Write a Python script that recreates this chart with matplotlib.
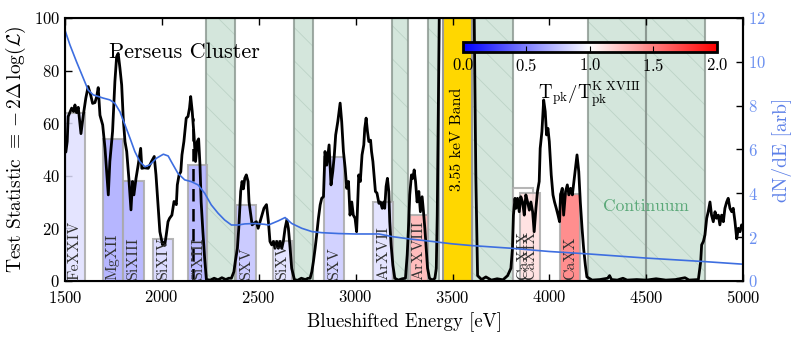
import numpy as np
import matplotlib
matplotlib.use('Agg')
import matplotlib.pyplot as plt
from matplotlib import colors, colorbar

plt.rcParams['font.family'] = ['cmr10', 'DejaVu Serif']
plt.rcParams['mathtext.fontset'] = 'cm'
plt.rcParams['axes.formatter.use_mathtext'] = True
plt.rcParams['hatch.linewidth'] = 0.6

# test statistic (left axis)
ts_E = [1500, 1505, 1512, 1517, 1535, 1545, 1552, 1560, 1569, 1583, 1595, 1608, 1620, 1633, 1643, 1655,
        1664, 1672, 1681, 1695, 1707, 1719, 1724, 1732, 1746, 1758, 1767, 1775, 1784, 1793, 1801, 1810,
        1819, 1830, 1841, 1849, 1856, 1867, 1878, 1891, 1897, 1910, 1930, 1947, 1961, 1970, 1982, 1990,
        2004, 2010, 2015, 2023, 2032, 2040, 2052, 2063, 2075, 2080, 2089, 2098, 2104, 2114, 2126, 2135,
        2143, 2149, 2157, 2166, 2174, 2183, 2190, 2197, 2203, 2212, 2221, 2230, 2250, 2270, 2290, 2310,
        2330, 2345, 2359, 2372, 2379, 2390, 2397, 2407, 2414, 2421, 2428, 2436, 2445, 2450, 2459, 2466,
        2476, 2488, 2497, 2513, 2527, 2540, 2550, 2558, 2567, 2576, 2584, 2593, 2601, 2610, 2619, 2627,
        2636, 2645, 2653, 2662, 2670, 2684, 2700, 2720, 2740, 2755, 2765, 2774, 2782, 2791, 2799, 2808,
        2817, 2825, 2834, 2842, 2851, 2863, 2873, 2882, 2890, 2897, 2908, 2920, 2928, 2937, 2946, 2954,
        2963, 2971, 2980, 2988, 2997, 3005, 3016, 3024, 3033, 3042, 3047, 3054, 3061, 3068, 3077, 3082,
        3089, 3095, 3102, 3110, 3120, 3128, 3137, 3145, 3150, 3157, 3164, 3171, 3176, 3183, 3192, 3202,
        3220, 3240, 3257, 3266, 3274, 3279, 3288, 3295, 3302, 3309, 3317, 3326, 3334, 3343, 3350, 3357,
        3364, 3371, 3381, 3395, 3409, 3416, 3421, 3426, 3432, 3440, 3600, 3611, 3620, 3629, 3650, 3672,
        3700, 3730, 3760, 3784, 3801, 3809, 3814, 3822, 3827, 3835, 3844, 3852, 3861, 3870, 3878, 3887,
        3896, 3904, 3913, 3921, 3930, 3938, 3947, 3952, 3961, 3970, 3978, 3985, 3992, 3999, 4009, 4018,
        4026, 4035, 4044, 4052, 4057, 4066, 4073, 4083, 4092, 4100, 4109, 4118, 4130, 4142, 4151, 4159,
        4168, 4176, 4185, 4193, 4220, 4260, 4300, 4310, 4320, 4350, 4379, 4400, 4450, 4500, 4550, 4600,
        4650, 4699, 4720, 4768, 4780, 4785, 4794, 4802, 4811, 4819, 4828, 4836, 4845, 4854, 4862, 4871,
        4879, 4888, 4897, 4905, 4914, 4922, 4931, 4940, 4948, 4957, 4966, 4974, 4983, 4991, 5000]
ts_val = [49, 49, 53, 62.5, 65.7, 64.4, 66.9, 64, 66, 56, 63, 69.5, 73.9, 70.7, 67.5, 67.8,
          70, 73.5, 63, 59.3, 50.4, 37.8, 32.7, 45.4, 56.8, 75.8, 85.3, 86.5, 80.9, 74.5, 61.9, 53,
          49.2, 39, 27, 37.8, 32.7, 39, 44, 50.4, 42.8, 43, 42.8, 45.4, 47.3, 40.3, 27.6, 18.7,
          13.7, 14.5, 13.5, 17.5, 22.5, 23.8, 25, 30.2, 29, 36.5, 40.3, 41.5, 47.9, 53, 61.9, 62.5,
          65.7, 70.1, 64.4, 55.5, 45.4, 53, 54, 44, 30, 18.7, 8.6, 0.5, 0.3, 1.0, 0.4, 1.2,
          0.5, 1.0, 1.0, 3.5, 7.3, 12.4, 20, 34, 37.8, 35, 39, 40.3, 37.8, 30, 25, 21.3,
          21.9, 22.5, 20, 24, 27.6, 29, 22.5, 15, 13.7, 15, 12.4, 15, 12.4, 15, 12.4, 15,
          20, 23.2, 20, 12.4, 4.8, 0.5, 0.2, 1.0, 0.5, 1.0, 1.0, 3.5, 7.3, 12.4, 17.5, 23.8,
          28.9, 31.4, 32, 49.2, 44, 51.7, 36.5, 41.6, 47.9, 55.5, 60.6, 67.6, 60.6, 49.2, 42.8, 35.2,
          37.8, 25, 30, 25, 23.8, 18.7, 40.3, 37.8, 47.9, 51.7, 58, 61.9, 56.8, 53, 53.5, 49.2,
          45.4, 40.3, 34, 33.4, 29.5, 30, 27.6, 30, 27.6, 35.9, 39, 34, 22.5, 13.7, 6, 1,
          0.3, 0.8, 1, 9.9, 22.5, 32.7, 40.3, 39, 42.2, 37.8, 30, 34, 26.3, 32, 26.3, 20,
          12.4, 4.8, 1, 0.3, 1, 4.8, 25, 63, 105, 140, 140, 105, 40, 2, 0.5, 1.5,
          0.3, 0.8, 0.4, 2, 4.8, 12.4, 25, 31.4, 27.6, 31.4, 26.3, 32, 30, 25, 32.7, 30,
          26.9, 30, 26.3, 18.7, 27.6, 34, 37.8, 50.4, 56.8, 68.8, 64.4, 55.5, 58, 53, 40.3, 32.7,
          30, 27.6, 25, 22.5, 32.7, 35.2, 25, 34, 36.5, 32.7, 35.2, 32.7, 40.3, 47.9, 41.6, 30,
          20, 12.4, 6, 1.5, 0.3, 0.5, 1.0, 2, 0.5, 0.3, 1, 0.3, 0.5, 0.3, 0.8, 0.3,
          0.5, 1.2, 0.3, 0.5, 7.3, 13.7, 15, 17.5, 23.8, 26.3, 30, 25, 22.5, 26.3, 23.8, 25,
          21.3, 25, 22.5, 27.6, 30, 31.4, 27.6, 26.3, 27.6, 22.5, 16, 20, 18.7, 21.3, 20]

# dN/dE (right axis)
spec_E = [1500, 1526, 1560, 1595, 1620, 1646, 1698, 1732, 1758, 1784, 1810, 1836, 1861, 1887, 1913,
          1939, 1973, 2008, 2033, 2049, 2083, 2118, 2152, 2187, 2221, 2255, 2290, 2324, 2359, 2393,
          2428, 2479, 2531, 2550, 2601, 2636, 2670, 2722, 2774, 2825, 2912, 2997, 3120, 3188, 3291,
          3394, 3498, 3600, 3800, 4000, 4200, 4500, 4800, 5000]
spec_val = [11.45, 10.77, 10.0, 9.25, 8.71, 8.49, 8.34, 8.26, 8.1, 7.72, 7.12, 6.51, 5.9, 5.44, 5.21,
            5.3, 5.6, 5.78, 5.7, 5.44, 4.91, 4.61, 4.53, 4.38, 4.0, 3.47, 3.09, 2.78, 2.55, 2.55,
            2.6, 2.62, 2.58, 2.55, 2.74, 2.89, 2.62, 2.4, 2.25, 2.2, 2.16, 2.14, 2.14, 2.02, 1.9,
            1.8, 1.69, 1.61, 1.49, 1.34, 1.23, 1.04, 0.88, 0.76]

# line windows
line_names = ['FeXXIV', 'MgXII', 'SiXIII', 'SiXIV', 'SiXIII', 'SXV', 'SiXV', 'SXV',
              'ArXVII', 'ArXVIII', 'CaXIX', 'CaXIX', 'CaXX']
line_lo = [1500, 1695, 1801, 1956, 2137, 2383, 2572, 2837, 3092, 3278, 3811, 3849, 4055]
line_hi = [1603, 1798, 1908, 2059, 2235, 2484, 2670, 2940, 3192, 3372, 3914, 3952, 4159]
line_ts = [64, 54, 38, 16, 44, 29, 15, 47, 30, 25, 35.5, 33.6, 33]
line_ratio = [0.88, 0.67, 0.68, 0.84, 0.68, 0.76, 0.88, 0.79, 0.88, 1.3, 1.0, 1.13, 1.52]

# continuum windows
cont_lo = [2230, 2680, 3190, 3375, 3600, 4200, 4500]
cont_hi = [2380, 2780, 3270, 3430, 3810, 4500, 4800]

band_lo, band_hi = 3450, 3600
dash_E, dash_top = 2162, 62

fig = plt.figure(figsize=(8.01, 3.38), dpi=100)
ax = fig.add_axes([0.081, 0.169, 0.847, 0.778])
cmap = plt.get_cmap('bwr')
norm = colors.Normalize(0, 2)

for lo, hi in zip(cont_lo, cont_hi):
    ax.axvspan(lo, hi, facecolor='#d4e6dc', edgecolor='none', zorder=1)
    ax.axvspan(lo, hi, facecolor='none', edgecolor='#bcd3c6', lw=0, hatch='\\', zorder=1.1)
    ax.axvline(lo, color='#8a968f', lw=1.5, alpha=0.8, zorder=1.2)
    ax.axvline(hi, color='#8a968f', lw=1.5, alpha=0.8, zorder=1.2)

ax.axvspan(band_lo, band_hi, facecolor='#ffd700', edgecolor='#999999', lw=1.5, zorder=1.5)
ax.text((band_lo + band_hi) / 2, 54, '3.55 keV Band', rotation=90, ha='center', va='center',
        fontsize=11.5, zorder=5)

for name, lo, hi, h, r in zip(line_names, line_lo, line_hi, line_ts, line_ratio):
    ax.bar(lo, h, width=hi - lo, align='edge', color=cmap(norm(r)), edgecolor='#aaaaaa',
           lw=1.5, alpha=0.85, zorder=2)
    ax.text((lo + hi) / 2, 0.5, name, rotation=90, ha='center', va='bottom', fontsize=11.5,
            color='#333333', zorder=6)

ax.plot([dash_E, dash_E], [0, dash_top], color='black', ls=(0, (5, 3)), lw=1.8, zorder=3)
ax.plot(ts_E, ts_val, color='black', lw=2, zorder=4)

ax.text(2117, 87, 'Perseus Cluster', fontsize=16, ha='center', va='center', zorder=6)
ax.text(4496, 28.3, 'Continuum', fontsize=12.5, color='#5aa878', ha='center', va='center', zorder=6)

ax.set_xlim(1500, 5000)
ax.set_ylim(0, 100)
ax.set_xticks(np.arange(1500, 5001, 500))
ax.set_yticks(np.arange(0, 101, 20))
ax.tick_params(direction='in', top=True, labelsize=12, length=5, width=1)
ax.tick_params(axis='x', pad=6)
ax.set_xlabel('Blueshifted Energy [eV]', fontsize=13.5)
ax.set_ylabel(r'Test Statistic $\equiv -2\Delta\,\log(\mathcal{L})$', fontsize=14)
for s in ax.spines.values():
    s.set_linewidth(1.5)

ax2 = ax.twinx()
ax2.plot(spec_E, spec_val, color='#3d6ee0', lw=1.2)
ax2.set_ylim(0, 12)
ax2.set_yticks(np.arange(0, 13, 2))
ax2.tick_params(direction='in', colors='#6a8ff0', labelsize=12, length=5, width=1)
ax2.tick_params(axis='y', color='black')
ax2.set_ylabel('dN/dE [arb]', color='#5b7fe8', fontsize=14)
ax2.spines['right'].set_linewidth(1.5)

cax = fig.add_axes([0.578, 0.846, 0.317, 0.030])
cb = colorbar.ColorbarBase(cax, cmap=cmap, norm=norm, orientation='horizontal')
cb.set_ticks([0, 0.5, 1.0, 1.5, 2.0])
cb.ax.tick_params(direction='in', labelsize=12, length=4)
cb.outline.set_linewidth(2)
cb.set_label(r'$\mathrm{T_{pk}/T_{pk}^{K\ XVIII}}$', fontsize=13.5)

fig.savefig('out.png', dpi=100)
